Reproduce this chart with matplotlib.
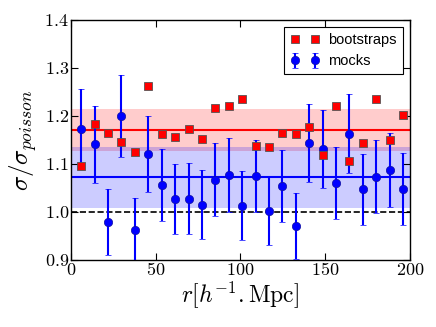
import numpy as np
import matplotlib
matplotlib.use("Agg")
import matplotlib.pyplot as plt
from matplotlib.ticker import FuncFormatter, MultipleLocator

plt.rcParams['mathtext.fontset'] = 'cm'
plt.rcParams['font.family'] = ['Liberation Sans', 'DejaVu Sans']

# separation bins
r = np.linspace(6, 196, 25)

# mocks
mocks = [1.173, 1.141, 0.979, 1.200, 0.962, 1.120, 1.057, 1.027, 1.028, 1.015,
         1.067, 1.077, 1.013, 1.075, 1.002, 1.054, 0.971, 1.143, 1.131, 1.060,
         1.163, 1.047, 1.073, 1.088, 1.047]
mocks_err = [0.083, 0.080, 0.068, 0.085, 0.068, 0.079, 0.075, 0.073, 0.074, 0.072,
             0.076, 0.077, 0.072, 0.075, 0.071, 0.075, 0.069, 0.081, 0.081, 0.075,
             0.082, 0.074, 0.076, 0.077, 0.075]

# bootstraps
boot = [1.096, 1.183, 1.164, 1.146, 1.125, 1.262, 1.162, 1.157, 1.173, 1.152,
        1.216, 1.221, 1.235, 1.137, 1.135, 1.164, 1.162, 1.177, 1.118, 1.221,
        1.106, 1.143, 1.236, 1.149, 1.202]

# mean and spread
boot_mean, boot_std = 1.171, 0.043
mocks_mean, mocks_std = 1.072, 0.064

fig = plt.figure(figsize=(4.36, 3.27), dpi=100)
ax = fig.add_axes([0.163, 0.205, 0.777, 0.734])

xx = [0, 200]
ax.fill_between(xx, boot_mean - boot_std, boot_mean + boot_std, color='red', alpha=0.2, lw=0)
ax.fill_between(xx, mocks_mean - mocks_std, mocks_mean + mocks_std, color='blue', alpha=0.2, lw=0)
ax.axhline(boot_mean, color='red', lw=1.5)
ax.axhline(mocks_mean, color='blue', lw=1.5)
ax.axhline(1.0, color='black', ls='--', lw=1.2)

ax.errorbar(r, mocks, yerr=mocks_err, fmt='o', color='blue', ms=6, mec='#1010a0',
            mew=0.5, elinewidth=1.5, capsize=2.5, capthick=1, label='mocks', zorder=3)
ax.plot(r, boot, 's', color='red', ms=6, mec='#555555', mew=0.6,
        label='bootstraps', zorder=4)

ax.set_xlim(0, 200)
ax.set_ylim(0.9, 1.4)
ax.xaxis.set_major_locator(MultipleLocator(50))
ax.yaxis.set_major_locator(MultipleLocator(0.1))
ax.xaxis.set_major_formatter(FuncFormatter(lambda v, p: r'$%d$' % v))
ax.yaxis.set_major_formatter(FuncFormatter(lambda v, p: r'$%.1f$' % v))
ax.tick_params(direction='in', top=True, right=True, labelsize=13, length=5, pad=1.5)
for s in ax.spines.values():
    s.set_linewidth(1.0)

ax.set_xlabel(r'$r[h^{-1}.\mathrm{Mpc}]$', fontsize=17, labelpad=0)
ax.set_ylabel(r'$\sigma/\sigma_{poisson}$', fontsize=18, labelpad=4)

leg = ax.legend(loc='upper right', numpoints=2, fontsize=10.5,
                fancybox=False, framealpha=1, edgecolor='black', borderpad=0.4,
                handlelength=2.0, handletextpad=0.6)
leg.get_frame().set_linewidth(0.8)

fig.savefig('out.png', dpi=100)
